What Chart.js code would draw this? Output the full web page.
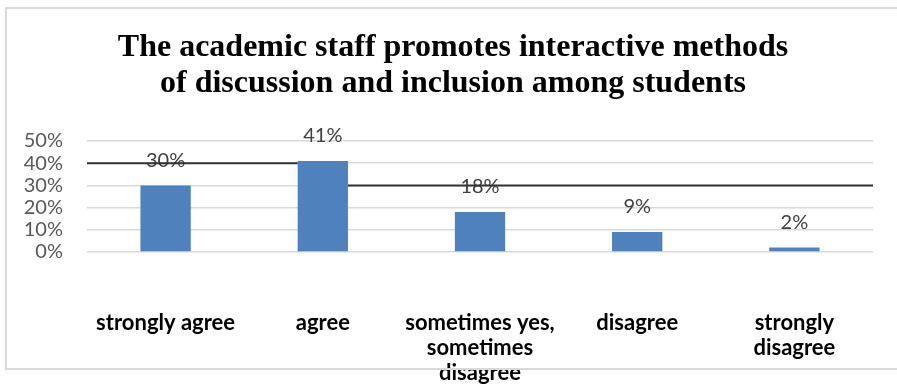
<!DOCTYPE html>
<html>
<head>
<meta charset="utf-8">
<script src="https://cdn.jsdelivr.net/npm/chart.js@4/dist/chart.umd.min.js"></script>
<style>
  body { margin: 0; background: #fff; }
  #wrap { position: relative; width: 897px; height: 392px; }
  #frame { position: absolute; left: 5px; top: 7px; width: 900px; height: 363px;
           border: 2px solid #d9d9d9; box-sizing: border-box; pointer-events: none; }
</style>
</head>
<body>
<div id="wrap">
  <canvas id="chart" width="897" height="392"></canvas>
  <div id="frame"></div>
</div>
<script>
// Survey answers and their shares (percent)
const answers = [
    ['strongly agree'],
    ['agree'],
    ['sometimes yes,', 'sometimes', 'disagree'],
    ['disagree'],
    ['strongly', 'disagree']
];
const shares = [30, 41, 18, 9, 2];
const yTicks = [0, 10, 20, 30, 40, 50];
const dividerLevels = [40, 30]; // dark rules either side of the "agree" bar

const titleLines = [
    'The academic staff promotes interactive methods',
    'of discussion and inclusion among students'
];

// Two-line serif heading, a little right of the canvas centre
const heading = {
    id: 'heading',
    afterDraw(chart) {
        const ctx = chart.ctx;
        ctx.save();
        ctx.font = 'bold 32px "Liberation Serif"';
        ctx.fillStyle = '#000';
        ctx.textAlign = 'center';
        ctx.textBaseline = 'middle';
        titleLines.forEach((line, i) => {
            ctx.fillText(line, 453, 48 + i * 36);
        });
        ctx.restore();
    }
};

// Writes the percentage above each bar
const valueLabels = {
    id: 'valueLabels',
    afterDatasetsDraw(chart) {
        const ctx = chart.ctx;
        const meta = chart.getDatasetMeta(0);
        ctx.save();
        ctx.font = '20px Lato';
        ctx.fillStyle = '#404040';
        ctx.textAlign = 'center';
        ctx.textBaseline = 'middle';
        meta.data.forEach((bar, i) => {
            ctx.fillText(shares[i] + '%', bar.x, bar.y - 25);
        });
        ctx.restore();
    }
};

// Two dark horizontal rules: left of the second bar and right of it
const dividers = {
    id: 'dividers',
    afterDraw(chart) {
        const ctx = chart.ctx;
        const area = chart.chartArea;
        const y = chart.scales.y;
        const bar = chart.getDatasetMeta(0).data[1];
        const half = bar.width / 2;
        ctx.save();
        ctx.strokeStyle = '#333333';
        ctx.lineWidth = 2;
        ctx.beginPath();
        ctx.moveTo(area.left, y.getPixelForValue(dividerLevels[0]));
        ctx.lineTo(bar.x - half, y.getPixelForValue(dividerLevels[0]));
        ctx.moveTo(bar.x + half, y.getPixelForValue(dividerLevels[1]));
        ctx.lineTo(area.right, y.getPixelForValue(dividerLevels[1]));
        ctx.stroke();
        ctx.restore();
    }
};

const ctx = document.getElementById('chart').getContext('2d');
new Chart(ctx, {
    type: 'bar',
    data: {
        labels: answers,
        datasets: [{
            data: shares,
            backgroundColor: '#4f81bd',
            barPercentage: 0.32,
            categoryPercentage: 1
        }]
    },
    options: {
        responsive: false,
        animation: false,
        layout: { padding: { left: 0, right: 24, top: 141, bottom: 0 } },
        plugins: {
            legend: { display: false },
            tooltip: { enabled: false },
            title: { display: false }
        },
        scales: {
            y: {
                min: 0,
                max: 50,
                afterBuildTicks: s => { s.ticks = yTicks.map(v => ({ value: v })); },
                afterFit: s => { s.width = 87; },
                border: { display: false },
                grid: { color: '#d9d9d9', lineWidth: 1.5, drawTicks: false },
                ticks: {
                    autoSkip: false,
                    padding: 24,
                    color: '#595959',
                    font: { family: 'Lato', size: 20 },
                    callback: v => v + '%'
                }
            },
            x: {
                afterFit: s => { s.height = 140; },
                border: { display: false },
                grid: { display: false, drawTicks: false },
                ticks: {
                    padding: 58.5,
                    autoSkip: false,
                    maxRotation: 0,
                    color: '#000',
                    font: { family: 'Lato', size: 22, weight: 'bold', lineHeight: 1.136 }
                }
            }
        }
    },
    plugins: [heading, valueLabels, dividers]
});
</script>
</body>
</html>
